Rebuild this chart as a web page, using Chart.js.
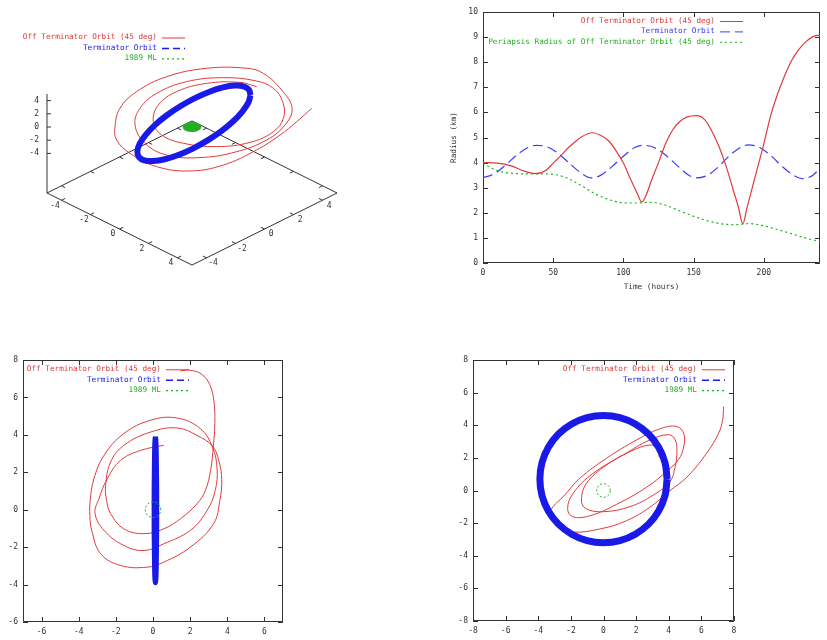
<!DOCTYPE html>
<html>
<head>
<meta charset="utf-8">
<title>Orbits around 1989 ML</title>
<script src="https://cdn.jsdelivr.net/npm/chart.js@4.4.0/dist/chart.umd.min.js"></script>
<style>
  html, body { margin: 0; padding: 0; background: #fff; }
  #page { position: relative; width: 827px; height: 640px; overflow: hidden; }
  .panel { position: absolute; }
</style>
</head>
<body>
<div id="page">
  <div class="panel" style="left:0;top:0"><canvas id="view3d" width="410" height="300"></canvas></div>
  <div class="panel" style="left:420px;top:0"><canvas id="radius" width="407" height="300"></canvas></div>
  <div class="panel" style="left:0;top:330px"><canvas id="planeXY" width="300" height="310"></canvas></div>
  <div class="panel" style="left:420px;top:330px"><canvas id="planeYZ" width="330" height="310"></canvas></div>
</div>
<script>
// ---- radius vs time ----
const offTime = [0, 10, 20, 30, 37, 45, 50, 55, 60, 65, 70, 78, 85, 90, 95, 100, 105, 110, 113, 116, 120, 125, 130, 135, 140, 145, 152, 158, 163, 168, 173, 178, 182, 185, 188, 192, 196, 200, 205, 210, 215, 220, 225, 230, 235, 240];
const offRadius = [4.0, 3.98, 3.87, 3.65, 3.56, 3.7, 3.98, 4.25, 4.55, 4.8, 5.02, 5.19, 5.05, 4.84, 4.45, 3.98, 3.35, 2.75, 2.43, 2.68, 3.3, 4.0, 4.75, 5.3, 5.63, 5.81, 5.87, 5.7, 5.25, 4.65, 3.88, 2.95, 2.2, 1.56, 2.2, 3.05, 3.9, 4.75, 5.9, 6.76, 7.49, 8.09, 8.51, 8.82, 9.02, 9.08];
const termTime = [0, 8, 16, 24, 32, 38, 46, 54, 62, 70, 77, 84, 92, 100, 108, 114, 122, 130, 138, 146, 152, 160, 168, 176, 184, 189, 197, 205, 213, 221, 228, 235, 240];
const termRadius = [3.4, 3.55, 3.9, 4.3, 4.6, 4.69, 4.62, 4.35, 3.95, 3.58, 3.39, 3.5, 3.85, 4.25, 4.6, 4.69, 4.6, 4.3, 3.9, 3.52, 3.39, 3.5, 3.85, 4.3, 4.62, 4.71, 4.6, 4.28, 3.85, 3.5, 3.36, 3.5, 3.78];
const periTime = [0, 10, 20, 30, 40, 50, 60, 70, 80, 90, 100, 110, 120, 130, 140, 150, 160, 170, 180, 190, 200, 210, 220, 230, 240];
const periRadius = [3.97, 3.68, 3.58, 3.55, 3.55, 3.53, 3.38, 3.08, 2.75, 2.52, 2.4, 2.39, 2.42, 2.3, 2.08, 1.86, 1.68, 1.56, 1.53, 1.57, 1.48, 1.33, 1.16, 0.99, 0.85];
const timeTicks = [0, 50, 100, 150, 200];
const radiusTicks = [0, 1, 2, 3, 4, 5, 6, 7, 8, 9, 10];

// ---- off terminator orbit, x-y plane ----
const xyRedX = [0.58, -0.67, -1.74, -2.46, -2.91, -3.12, -2.64, -1.57, -0.49, 0.58, 2.01, 2.91, 3.35, 3.45, 3.2,
  2.55, 1.3, -0.13, -1.57, -2.64, -3.18, -3.38, -3.4, -3.3, -2.82, -1.74, -0.31, 0.58, 2.01, 3.26, 3.6, 3.7, 3.55, 3.2,
  2.37, 1.3, -0.13, -1.57, -2.28, -2.55, -2.5, -2.28, -1.57, -0.49, 0.58, 1.48, 2.37, 2.82, 3.1, 3.25, 3.33, 3.28, 3.05, 2.6, 2.0, 1.48];
const xyRedY = [3.44, 3.17, 2.64, 1.66, 0.59, -0.2, -1.1, -1.91, -2.18, -1.82, -1.1, -0.04, 1.03, 2.2, 3.35,
  4.33, 4.9, 4.78, 4.07, 2.9, 1.66, 0.5, -0.3, -1.1, -2.35, -2.98, -3.07, -2.8, -2.0, -0.75, 0.5, 1.6, 2.6, 3.4,
  3.97, 4.37, 4.15, 3.44, 2.55, 1.3, 0.5, -0.21, -1.02, -1.28, -1.02, -0.48, 0.32, 1.03, 2.1, 3.4, 4.6, 5.8, 6.7, 7.25, 7.45, 7.42];

// ---- off terminator orbit, y-z plane ----
const yzRedY = [3.42, 3.3, 2.84, 1.62, 0.18, -1.04, -1.35, -1.1, -0.02, 1.62, 3.05, 4.07, 4.4, 4.5, 4.4, 4.0, 2.84, 1.21, -0.64, -1.86, -2.2, -1.9, -0.84, 0.8, 2.64, 3.86, 4.6, 4.9, 4.93, 4.5, 3.46, 2.03, 0.18, -1.45, -2.47, -3.1, -3.25, -2.75, -1.9, -0.23, 1.41, 2.84, 4.07, 5.1, 6.32, 7.05, 7.3, 7.36];
const yzRedZ = [2.03, 2.55, 2.79, 2.38, 1.56, 0.44, -0.58, -1.1, -1.3, -0.99, -0.28, 0.54, 1.5, 2.4, 3.1, 3.42, 3.1, 2.18, 1.05, -0.17, -1.1, -1.6, -1.55, -0.85, 0.2, 1.16, 1.9, 2.6, 3.45, 3.92, 3.78, 3.1, 1.97, 0.75, -0.38, -1.0, -1.4, -2.25, -2.55, -2.36, -1.85, -1.03, -0.01, 0.81, 2.28, 3.5, 4.3, 5.14];

// ---- off terminator orbit as seen in the 3D view (projected units) ----
const red3dU = [4.46, 3.31, 1.01, -1.06, -2.32, -2.67, -2.09, -0.6, 1.7, 4.0, 5.61, 6.3, 6.25, 5.61, 4.46, 2.16, -0.37, -2.44, -3.59, -3.93, -3.24, -1.75, 0.55, 3.08, 5.15, 6.41, 6.9, 6.18, 4.92, 3.77, 1.01, -1.75, -3.82, -4.97, -5.31, -5.2, -4.28, -2.44, -0.14, 2.16, 4.46, 6.07, 7.22, 8.25];
const red3dV = [7.33, 7.63, 7.56, 6.99, 6.07, 4.92, 4.0, 3.43, 3.2, 3.49, 4.23, 5.15, 6.3, 7.22, 7.72, 7.95, 7.68, 6.87, 5.84, 4.69, 3.43, 2.62, 2.44, 2.85, 3.66, 4.69, 5.84, 7.1, 8.25, 8.6, 8.6, 8.02, 6.99, 5.84, 4.57, 3.66, 2.74, 1.82, 1.52, 1.93, 2.97, 4.0, 4.92, 5.84];

// ---- terminator orbit ring ----
const termRingX = [0.13, 0.15, 0.17, 0.18, 0.19, 0.2, 0.2, 0.2, 0.19, 0.18, 0.17, 0.15, 0.13, 0.11, 0.09, 0.08, 0.07, 0.06, 0.06, 0.06, 0.07, 0.08, 0.09, 0.11, 0.13];
const termRingY = [3.9, 3.77, 3.38, 2.76, 1.95, 1.01, 0, -1.01, -1.95, -2.76, -3.38, -3.77, -3.9, -3.77, -3.38, -2.76, -1.95, -1.01, 0, 1.01, 1.95, 2.76, 3.38, 3.77, 3.9];
const termRingZ = [0.7, 1.71, 2.65, 3.46, 4.08, 4.47, 4.6, 4.47, 4.08, 3.46, 2.65, 1.71, 0.7, -0.31, -1.25, -2.06, -2.68, -3.07, -3.2, -3.07, -2.68, -2.06, -1.25, -0.31, 0.7];

// ---- 1989 ML outline ----
const mlA = [0.42, 0.36, 0.21, 0, -0.21, -0.36, -0.42, -0.36, -0.21, 0, 0.21, 0.36, 0.42];
const mlB = [0, 0.21, 0.36, 0.42, 0.36, 0.21, 0, -0.21, -0.36, -0.42, -0.36, -0.21, 0];

const planeXTicks = [-6, -4, -2, 0, 2, 4, 6];
const planeXYTicksY = [-6, -4, -2, 0, 2, 4, 6, 8];
const planeYZTicks = [-8, -6, -4, -2, 0, 2, 4, 6, 8];
const axisTicks3d = [-4, -2, 0, 2, 4];
const box3d = { x: [-5, 5], y: [-5, 5], z: [-5, 5] };
const zBase = -10;

const RED = '#e03a3a';
const BLUE = '#1a1ae8';
const BLUE_LINE = '#3b3bff';
const GREEN = '#22b022';
const INK = '#333';
const MONO = '"DejaVu Sans Mono", monospace';
const tickFont = { family: MONO, size: 8 };
const keyFont = '7.7px ' + MONO;

// gnuplot view 60,45 -> screen units
function project(x, y, z) {
  return { x: x + y, y: 0.497 * (y - x) + 0.455 * (z - zBase) };
}
const pts = (a, b) => a.map((v, i) => ({ x: v, y: b[i] }));

// text right-aligned, key line after it
const gnuLegend = {
  id: 'gnuLegend',
  afterDraw(chart, args, opts) {
    const ctx = chart.ctx;
    ctx.save();
    ctx.font = keyFont;
    ctx.textAlign = 'right';
    ctx.textBaseline = 'middle';
    chart.data.datasets.forEach((ds, i) => {
      const y = opts.top + i * opts.rowH;
      const col = ds.keyColor || ds.borderColor;
      ctx.fillStyle = col;
      ctx.fillText(ds.label, opts.right, y);
      ctx.strokeStyle = col;
      ctx.lineWidth = ds.keyWidth || 1;
      ctx.setLineDash(ds.keyDash || []);
      ctx.beginPath();
      ctx.moveTo(opts.right + 5, y + 0.5);
      ctx.lineTo(opts.right + 28, y + 0.5);
      ctx.stroke();
    });
    ctx.restore();
  }
};

// border box with inward mirrored ticks
const gnuFrame = {
  id: 'gnuFrame',
  beforeDatasetsDraw(chart) {
    const { ctx, chartArea: a, scales: { x, y } } = chart;
    ctx.save();
    ctx.strokeStyle = INK;
    ctx.lineWidth = 1;
    ctx.beginPath();
    ctx.rect(a.left + 0.5, a.top + 0.5, a.right - a.left - 1, a.bottom - a.top - 1);
    x.ticks.forEach(t => {
      const p = Math.round(x.getPixelForValue(t.value)) + 0.5;
      ctx.moveTo(p, a.bottom); ctx.lineTo(p, a.bottom - 5);
      ctx.moveTo(p, a.top); ctx.lineTo(p, a.top + 5);
    });
    y.ticks.forEach(t => {
      const p = Math.round(y.getPixelForValue(t.value)) + 0.5;
      ctx.moveTo(a.left, p); ctx.lineTo(a.left + 5, p);
      ctx.moveTo(a.right, p); ctx.lineTo(a.right - 5, p);
    });
    ctx.stroke();
    ctx.restore();
  }
};

const axes3d = {
  id: 'axes3d',
  beforeDatasetsDraw(chart) {
    const { ctx, scales: { x: sx, y: sy } } = chart;
    const px = p => [sx.getPixelForValue(p.x), sy.getPixelForValue(p.y)];
    const seg = (a, b) => { const p = px(a), q = px(b); ctx.moveTo(p[0], p[1]); ctx.lineTo(q[0], q[1]); };
    const [x0, x1] = box3d.x, [y0, y1] = box3d.y, z1 = box3d.z[1];
    ctx.save();
    ctx.strokeStyle = INK;
    ctx.lineWidth = 1;
    ctx.beginPath();
    const base = [project(x0, y0, zBase), project(x1, y0, zBase), project(x1, y1, zBase), project(x0, y1, zBase)];
    base.forEach((p, i) => { const q = px(p); i ? ctx.lineTo(q[0], q[1]) : ctx.moveTo(q[0], q[1]); });
    ctx.closePath();
    seg(project(x0, y0, zBase), project(x0, y0, z1));
    axisTicks3d.forEach(t => {
      seg(project(t, y0, zBase), project(t, y0 + 0.25, zBase));
      seg(project(t, y1, zBase), project(t, y1 - 0.25, zBase));
      seg(project(x1, t, zBase), project(x1 - 0.25, t, zBase));
      seg(project(x0, t, zBase), project(x0 + 0.25, t, zBase));
      const q = px(project(x0, y0, t));
      ctx.moveTo(q[0], q[1]); ctx.lineTo(q[0] + 4, q[1]);
    });
    ctx.stroke();
    ctx.fillStyle = INK;
    ctx.font = '8px ' + MONO;
    ctx.textBaseline = 'middle';
    axisTicks3d.forEach(t => {
      ctx.textAlign = 'center';
      let q = px(project(t, y0 - 0.45, zBase));
      ctx.fillText(String(t), q[0], q[1] + 2);
      q = px(project(x1 + 0.45, t, zBase));
      ctx.fillText(String(t), q[0], q[1] + 2);
      ctx.textAlign = 'right';
      q = px(project(x0, y0, t));
      ctx.fillText(String(t), q[0] - 8, q[1]);
    });
    ctx.restore();
  }
};

const common = {
  responsive: false,
  animation: false,
  events: [],
  plugins: { legend: { display: false }, tooltip: { enabled: false } }
};

function axis(min, max, list, fit, extra) {
  return Object.assign({
    type: 'linear', min, max,
    afterBuildTicks: s => { s.ticks = list.map(v => ({ value: v })); },
    afterFit: fit,
    grid: { display: false, drawTicks: false },
    border: { display: false },
    ticks: { padding: 5, color: INK, font: tickFont, autoSkip: false, maxRotation: 0, callback: v => String(v) }
  }, extra || {});
}

const redLine = { borderColor: RED, borderWidth: 1, showLine: true, pointRadius: 0, tension: 0.4, order: 3 };
const ringKey = { keyDash: [7, 4], keyWidth: 1.5, keyColor: BLUE };
const mlKey = { keyDash: [2, 3], keyWidth: 1.2 };

// 3D view
new Chart(document.getElementById('view3d'), {
  type: 'scatter',
  data: { datasets: [
    Object.assign({ label: 'Off Terminator Orbit (45 deg)', data: pts(red3dU, red3dV) }, redLine),
    Object.assign({ label: 'Terminator Orbit',
      data: termRingY.map((y, i) => project(termRingX[i], y, termRingZ[i])),
      borderColor: BLUE, borderWidth: 6, showLine: true, pointRadius: 0, tension: 0.4, order: 2 }, ringKey),
    Object.assign({ label: '1989 ML', data: mlA.map((a, i) => project(a, mlB[i], 0)),
      borderColor: GREEN, backgroundColor: GREEN, borderWidth: 1.5, fill: 'shape',
      showLine: true, pointRadius: 0, tension: 0.4, order: 1 }, mlKey)
  ] },
  options: Object.assign({}, common, {
    layout: { padding: 0 },
    plugins: Object.assign({}, common.plugins, { gnuLegend: { right: 157, top: 37.5, rowH: 10.4 } }),
    scales: {
      x: { type: 'linear', display: false, min: -13.24, max: 15.03 },
      y: { type: 'linear', display: false, min: -7.38, max: 13.31 }
    }
  }),
  plugins: [axes3d, gnuLegend]
});

// radius vs time
new Chart(document.getElementById('radius'), {
  type: 'scatter',
  data: { datasets: [
    { label: 'Off Terminator Orbit (45 deg)', data: pts(offTime, offRadius), borderColor: RED, borderWidth: 1.2,
      showLine: true, pointRadius: 0, cubicInterpolationMode: 'monotone' },
    { label: 'Terminator Orbit', data: pts(termTime, termRadius), borderColor: BLUE_LINE, borderWidth: 1.2,
      borderDash: [10, 5], keyDash: [10, 5], showLine: true, pointRadius: 0, cubicInterpolationMode: 'monotone' },
    { label: 'Periapsis Radius of Off Terminator Orbit (45 deg)', data: pts(periTime, periRadius), borderColor: GREEN,
      borderWidth: 1.2, borderDash: [2, 3], keyDash: [2, 3], showLine: true, pointRadius: 0, cubicInterpolationMode: 'monotone' }
  ] },
  options: Object.assign({}, common, {
    layout: { padding: { top: 12, right: 7, left: 0, bottom: 0 } },
    plugins: Object.assign({}, common.plugins, { gnuLegend: { right: 295, top: 21, rowH: 10.4 } }),
    scales: {
      x: axis(0, 240, timeTicks, s => { s.height = 37; }, {
        title: { display: true, text: 'Time (hours)', color: INK, font: { family: MONO, size: 7.7 }, padding: { top: 0, bottom: 8.4 } } }),
      y: axis(0, 10, radiusTicks, s => { s.width = 63; }, {
        title: { display: true, text: 'Radius (km)', color: INK, font: { family: MONO, size: 7.7 }, padding: { top: 29.4, bottom: 0 } } })
    }
  }),
  plugins: [gnuFrame, gnuLegend]
});

// x-y plane
new Chart(document.getElementById('planeXY'), {
  type: 'scatter',
  data: { datasets: [
    Object.assign({ label: 'Off Terminator Orbit (45 deg)', data: pts(xyRedX, xyRedY) }, redLine),
    Object.assign({ label: 'Terminator Orbit', data: pts(termRingX, termRingY), borderColor: BLUE, borderWidth: 5,
      showLine: true, pointRadius: 0, tension: 0.4, order: 2 }, ringKey),
    Object.assign({ label: '1989 ML', data: pts(mlA, mlB), borderColor: GREEN, borderWidth: 1, borderDash: [2, 2],
      showLine: true, pointRadius: 0, tension: 0.4, order: 1 }, mlKey)
  ] },
  options: Object.assign({}, common, {
    layout: { padding: { top: 30, right: 17, left: 0, bottom: 0 } },
    plugins: Object.assign({}, common.plugins, { gnuLegend: { right: 161, top: 39.3, rowH: 10.4 } }),
    scales: {
      x: axis(-7, 7, planeXTicks, s => { s.height = 18; }),
      y: axis(-6, 8, planeXYTicksY, s => { s.width = 23; }, {})
    }
  }),
  plugins: [gnuFrame, gnuLegend]
});

// y-z plane
new Chart(document.getElementById('planeYZ'), {
  type: 'scatter',
  data: { datasets: [
    Object.assign({ label: 'Off Terminator Orbit (45 deg)', data: pts(yzRedY, yzRedZ) }, redLine),
    Object.assign({ label: 'Terminator Orbit', data: pts(termRingY, termRingZ), borderColor: BLUE, borderWidth: 7,
      showLine: true, pointRadius: 0, tension: 0.4, order: 2 }, ringKey),
    Object.assign({ label: '1989 ML', data: pts(mlA, mlB), borderColor: GREEN, borderWidth: 1, borderDash: [2, 2],
      showLine: true, pointRadius: 0, tension: 0.4, order: 1 }, mlKey)
  ] },
  options: Object.assign({}, common, {
    layout: { padding: { top: 30, right: 16, left: 0, bottom: 0 } },
    plugins: Object.assign({}, common.plugins, { gnuLegend: { right: 277, top: 39.3, rowH: 10.4 } }),
    scales: {
      x: axis(-8, 8, planeYZTicks, s => { s.height = 19; }),
      y: axis(-8, 8, planeYZTicks, s => { s.width = 53; })
    }
  }),
  plugins: [gnuFrame, gnuLegend]
});
</script>
</body>
</html>
